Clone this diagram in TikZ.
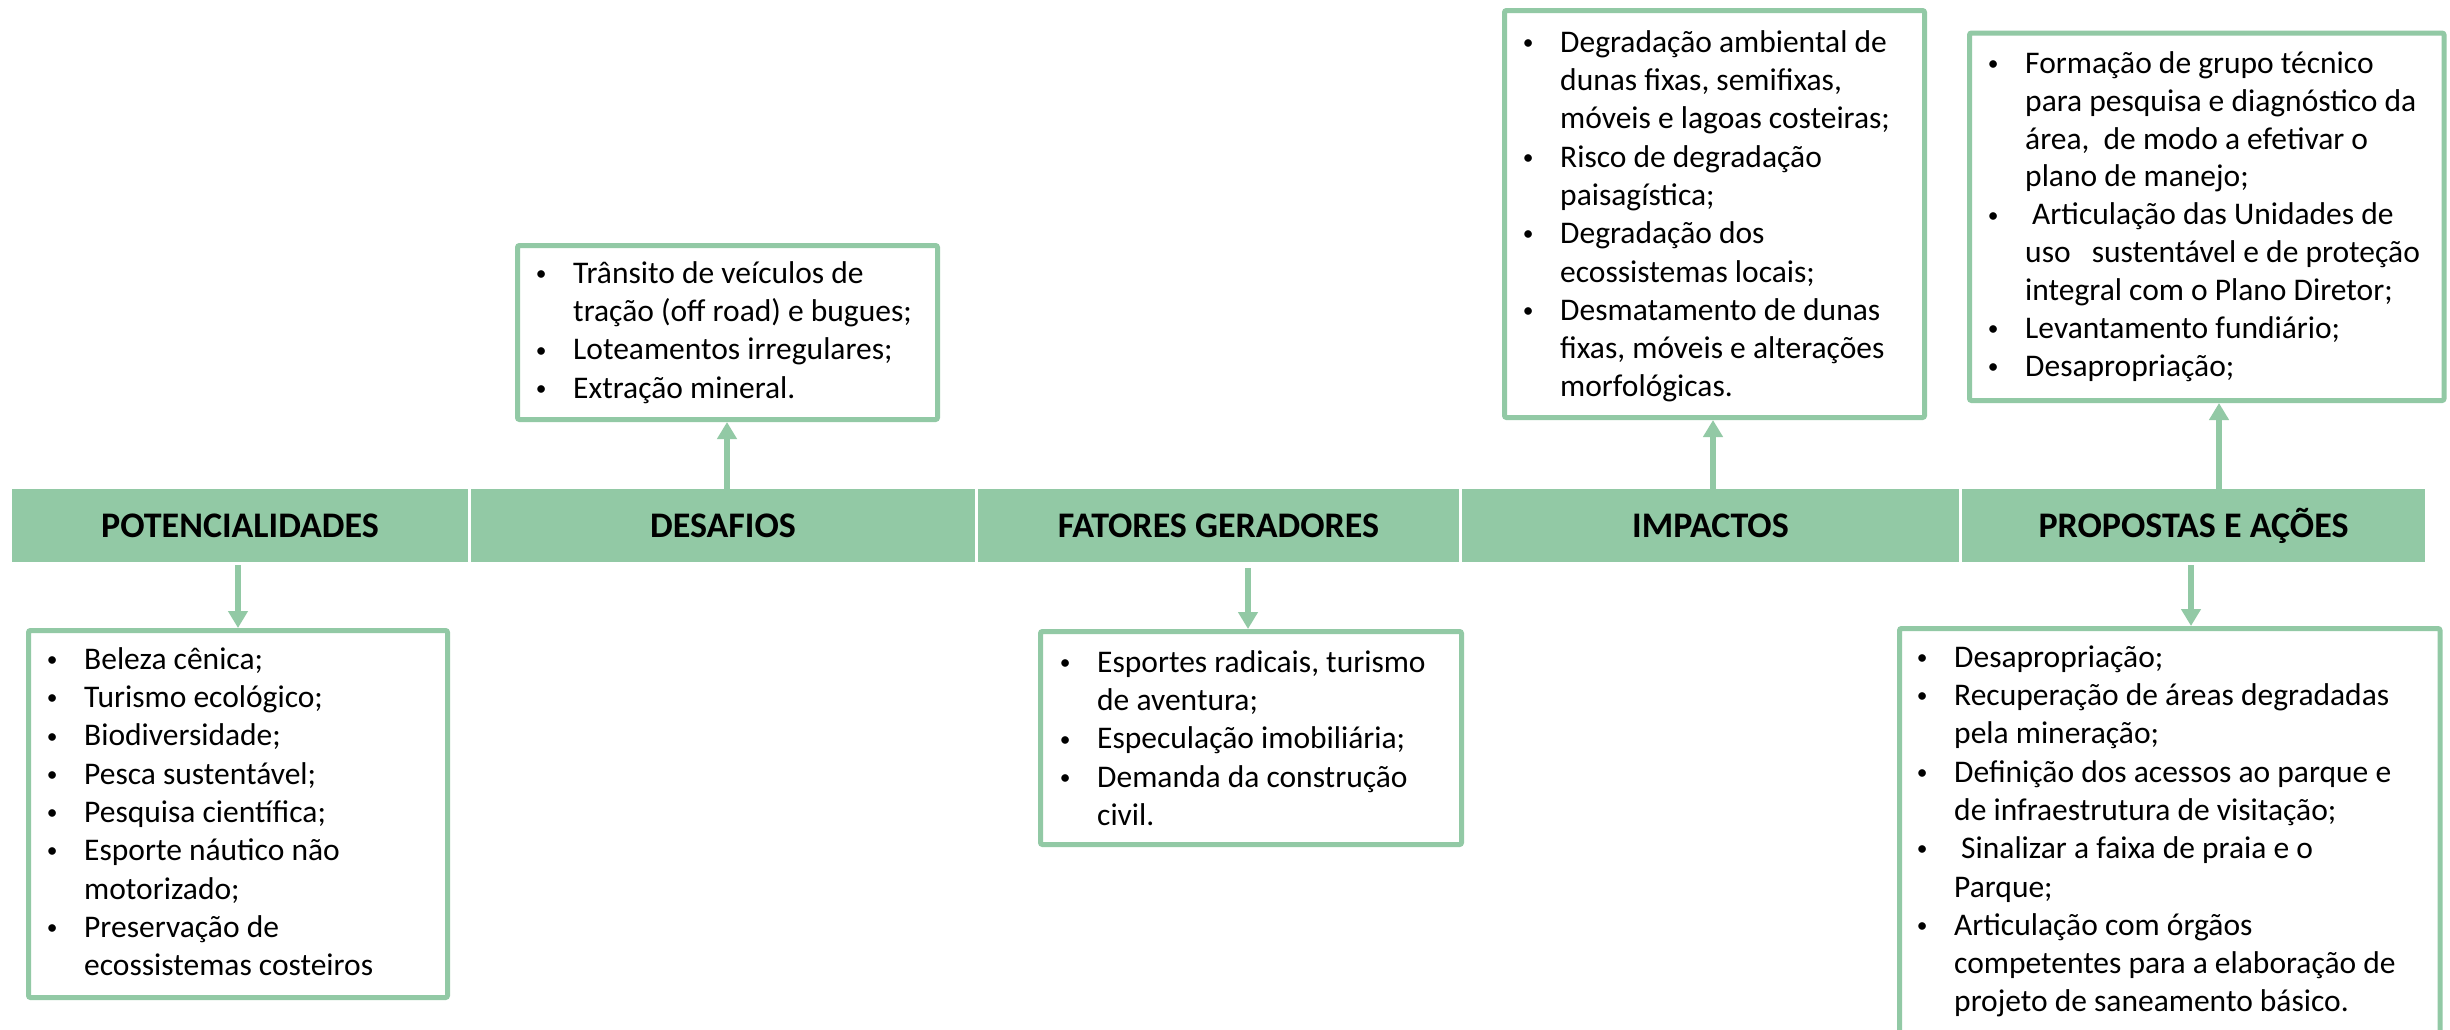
\documentclass[tikz,border=0pt]{standalone}
\usepackage{fontspec}
\setmainfont{Carlito}
\usetikzlibrary{arrows.meta}
\definecolor{grn}{RGB}{146,201,165}
\newcommand{\bi}{\makebox[0pt]{\raisebox{2.8pt}{\scalebox{0.68}{\textbullet}}}\hspace*{32pt}}
\newcommand{\ci}{\hspace*{32pt}}
\newcommand{\fs}{\rule{0pt}{28pt}}
\begin{document}
\begin{tikzpicture}[x=1pt,y=-1pt,
  hdr/.style={fill=grn, minimum height=73pt, inner sep=0pt, font=\fontsize{36}{40}\selectfont\bfseries},
  box/.style={draw=grn, line width=5pt, rounded corners=2pt, inner sep=0pt},
  txt/.style={anchor=north west, inner sep=0pt, align=left, font=\fontsize{31.5}{38.3}\selectfont},
  arr/.style={draw=grn, line width=6pt, -{Triangle[width=19pt,length=17pt]}}]
\clip (0,0) rectangle (2450,1029);
\fill[white] (0,0) rectangle (2450,1029);
% header bar
\node[hdr, minimum width=456pt] (pot) at (240,525.5) {POTENCIALIDADES};
\node[hdr, minimum width=504pt] (des) at (723,525.5) {DESAFIOS};
\node[hdr, minimum width=481pt] (fat) at (1218.5,525.5) {FATORES GERADORES};
\node[hdr, minimum width=497pt] (imp) at (1710.5,525.5) {IMPACTOS};
\node[hdr, minimum width=463pt] (pro) at (2193.5,525.5) {PROPOSTAS E AÇÕES};
% boxes
\node[box, minimum width=419pt, minimum height=367pt] (potbox) at (238,814) {};
\node[box, minimum width=420pt, minimum height=174pt] (desbox) at (727.5,332.5) {};
\node[box, minimum width=421pt, minimum height=213pt] (fatbox) at (1251,738) {};
\node[box, minimum width=420pt, minimum height=407pt] (impbox) at (1714.5,214) {};
\node[box, minimum width=474.5pt, minimum height=367.5pt] (protop) at (2206.75,216.75) {};
\node[box, minimum width=540.5pt, minimum height=431.5pt] (probot) at (2169.75,844.25) {};
% texts
\node[txt] (pottxt) at (52,641) {\fs\bi Beleza cênica;\\
\bi Turismo ecológico;\\
\bi Biodiversidade;\\
\bi Pesca sustentável;\\
\bi Pesquisa científica;\\
\bi Esporte náutico não\\
\ci motorizado;\\
\bi Preservação de\\
\ci ecossistemas costeiros};
\node[txt] (destxt) at (541,255) {\fs\bi Trânsito de veículos de\\
\ci tração (off road) e bugues;\\
\bi Loteamentos irregulares;\\
\bi Extração mineral.};
\node[txt] (fattxt) at (1065,644) {\fs\bi Esportes radicais, turismo\\
\ci de aventura;\\
\bi Especulação imobiliária;\\
\bi Demanda da construção\\
\ci civil.};
\node[txt] (imptxt) at (1528,24) {\fs\bi Degradação ambiental de\\
\ci dunas fixas, semifixas,\\
\ci móveis e lagoas costeiras;\\
\bi Risco de degradação\\
\ci paisagística;\\
\bi Degradação dos\\
\ci ecossistemas locais;\\
\bi Desmatamento de dunas\\
\ci fixas, móveis e alterações\\
\ci morfológicas.};
\node[txt, font=\fontsize{31.5}{37.9}\selectfont] (protoptxt) at (1993,45) {\fs\bi Formação de grupo técnico\\
\ci para pesquisa e diagnóstico da\\
\ci área,\hspace{7pt} de modo a efetivar o\\
\ci plano de manejo;\\
\bi\hspace*{7pt}Articulação das Unidades de\\
\ci uso\hspace{14pt} sustentável e de proteção\\
\ci integral com o Plano Diretor;\\
\bi Levantamento fundiário;\\
\bi Desapropriação;};
\node[txt] (probottxt) at (1922,639) {\fs\bi Desapropriação;\\
\bi Recuperação de áreas degradadas\\
\ci pela mineração;\\
\bi Definição dos acessos ao parque e\\
\ci de infraestrutura de visitação;\\
\bi\hspace*{7pt}Sinalizar a faixa de praia e o\\
\ci Parque;\\
\bi Articulação com órgãos\\
\ci competentes para a elaboração de\\
\ci projeto de saneamento básico.};
% connectors
\coordinate (xa) at (238,0);
\coordinate (xb) at (727,0);
\coordinate (xc) at (1248,0);
\coordinate (xd) at (1713,0);
\coordinate (xe) at (2219,0);
\coordinate (xf) at (2191,0);
\draw[arr, shorten <=3pt] (pot.south -| xa) -- (potbox.north -| xa);
\draw[arr] (des.north -| xb) -- (desbox.south -| xb);
\draw[arr, shorten <=6pt] (fat.south -| xc) -- (fatbox.north -| xc);
\draw[arr] (imp.north -| xd) -- (impbox.south -| xd);
\draw[arr] (pro.north -| xe) -- (protop.south -| xe);
\draw[arr, shorten <=3pt] (pro.south -| xf) -- (probot.north -| xf);
\end{tikzpicture}
\end{document}
